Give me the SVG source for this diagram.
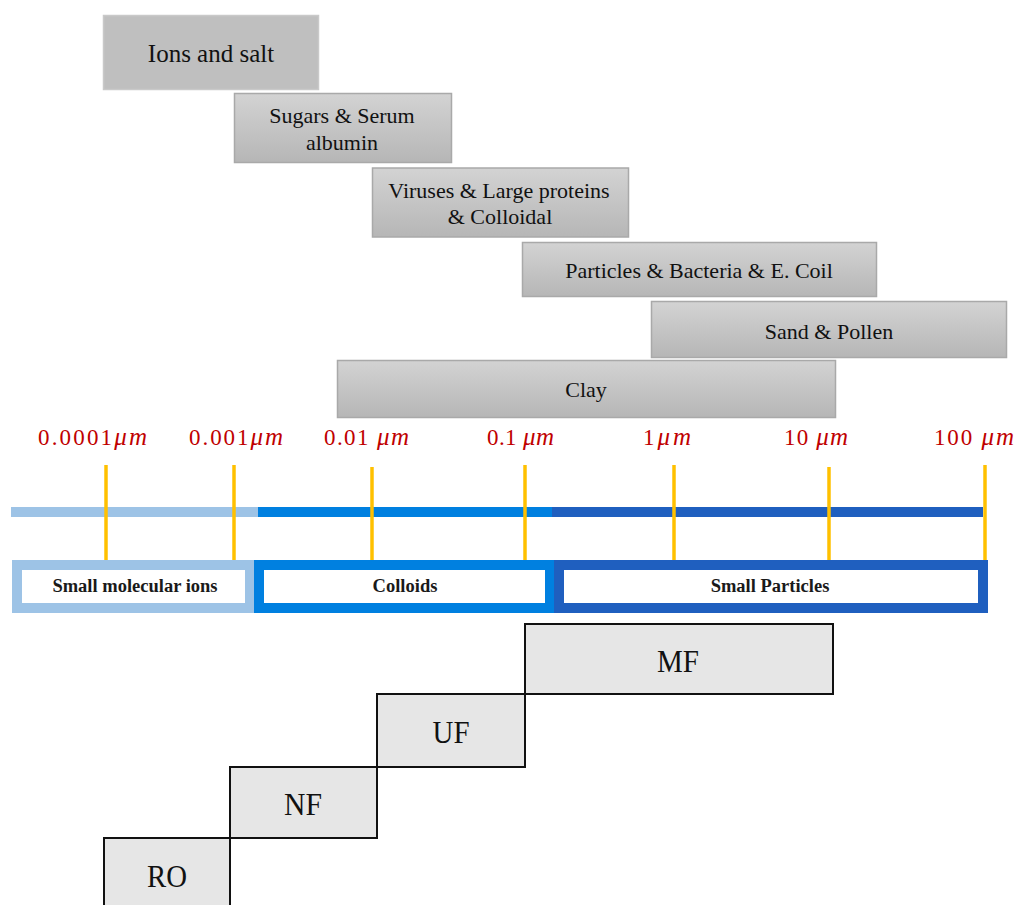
<svg xmlns="http://www.w3.org/2000/svg" width="1016" height="905" viewBox="0 0 1016 905">
<defs>
<linearGradient id="g" x1="0" y1="0" x2="0" y2="1">
<stop offset="0" stop-color="#d3d3d3"/>
<stop offset="1" stop-color="#b6b6b6"/>
</linearGradient>
<style>
.cat{fill:url(#g);stroke:#a9a9a9;stroke-width:1.5}
.t{font-family:"Liberation Serif","Times New Roman",serif;fill:#111;text-anchor:middle}
.top{font-size:22px}
.tick{stroke:#ffc000;stroke-width:3.5}
.lab{font-family:"Liberation Serif","Times New Roman",serif;font-size:23px;fill:#c00000}
.mu{font-style:italic;font-size:25px}
.band{font-size:18.5px;font-weight:bold;fill:#1a1a1a}
.step{fill:#e6e6e6;stroke:#111;stroke-width:2}
.st{font-size:32px}
</style>
</defs>
<rect width="1016" height="905" fill="#fff"/>

<g id="ions"><rect x="103.5" y="15.5" width="215" height="74" fill="#bfbfbf" stroke="#c9c9c9" stroke-width="1.5"/><text class="t" x="211" y="62" font-size="25">Ions and salt</text></g>
<g id="sugars"><rect class="cat" x="234.5" y="93.5" width="217" height="69"/><text class="t top" x="342" y="123">Sugars &amp; Serum</text><text class="t top" x="342" y="150">albumin</text></g>
<g id="viruses"><rect class="cat" x="372.5" y="168" width="256" height="69"/><text class="t top" x="499" y="198">Viruses &amp; Large proteins</text><text class="t top" x="500" y="224">&amp; Colloidal</text></g>
<g id="particles"><rect class="cat" x="522.5" y="242.5" width="354" height="54"/><text class="t top" x="699" y="278">Particles &amp; Bacteria &amp; E. Coil</text></g>
<g id="sand"><rect class="cat" x="651.5" y="301.5" width="355" height="56"/><text class="t top" x="829" y="339">Sand &amp; Pollen</text></g>
<g id="clay"><rect class="cat" x="337.5" y="360.5" width="498" height="57"/><text class="t top" x="586" y="397">Clay</text></g>

<g id="scale-labels">
<text class="lab" x="38" y="445" textLength="109" lengthAdjust="spacing">0.0001<tspan class="mu">μm</tspan></text>
<text class="lab" x="189" y="445" textLength="94" lengthAdjust="spacing">0.001<tspan class="mu">μm</tspan></text>
<text class="lab" x="324" y="445" textLength="85" lengthAdjust="spacing">0.01 <tspan class="mu">μm</tspan></text>
<text class="lab" x="487" y="445" textLength="67" lengthAdjust="spacing">0.1 <tspan class="mu">μm</tspan></text>
<text class="lab" x="643" y="445" textLength="48" lengthAdjust="spacing">1<tspan class="mu">μm</tspan></text>
<text class="lab" x="784" y="445" textLength="64" lengthAdjust="spacing">10 <tspan class="mu">μm</tspan></text>
<text class="lab" x="934" y="445" textLength="80" lengthAdjust="spacing">100 <tspan class="mu">μm</tspan></text>
</g>

<g id="axis">
<rect x="11" y="507" width="247" height="10" fill="#9dc3e6"/>
<rect x="258" y="507" width="294" height="10" fill="#0080e0"/>
<rect x="552" y="507" width="431" height="10" fill="#1f5fbf"/>
</g>

<g id="band-small-molecular-ions"><rect x="17" y="565" width="233" height="43" fill="#fff" stroke="#9dc3e6" stroke-width="10"/><text class="t band" x="135" y="592">Small molecular ions</text></g>
<g id="band-colloids"><rect x="259" y="565" width="291" height="43" fill="#fff" stroke="#0080e0" stroke-width="10"/><text class="t band" x="405" y="592">Colloids</text></g>
<g id="band-small-particles"><rect x="559" y="565" width="424" height="43" fill="#fff" stroke="#1f5fbf" stroke-width="10"/><text class="t band" x="770" y="592">Small Particles</text></g>

<g id="ticks">
<line class="tick" x1="106" y1="465" x2="106" y2="560"/>
<line class="tick" x1="234" y1="465" x2="234" y2="560"/>
<line class="tick" x1="372" y1="467" x2="372" y2="560"/>
<line class="tick" x1="525" y1="465" x2="525" y2="560"/>
<line class="tick" x1="674" y1="465" x2="674" y2="560"/>
<line class="tick" x1="829" y1="467" x2="829" y2="560"/>
<line class="tick" x1="985" y1="465" x2="985" y2="560"/>
</g>

<g id="RO"><rect class="step" x="104" y="838" width="126" height="75"/><text class="t st" x="167" y="887" textLength="40" lengthAdjust="spacingAndGlyphs">RO</text></g>
<g id="NF"><rect class="step" x="230" y="767" width="147" height="71"/><text class="t st" x="303" y="815" textLength="38" lengthAdjust="spacingAndGlyphs">NF</text></g>
<g id="UF"><rect class="step" x="377" y="694" width="148" height="73"/><text class="t st" x="451" y="743" textLength="37" lengthAdjust="spacingAndGlyphs">UF</text></g>
<g id="MF"><rect class="step" x="525" y="624" width="308" height="70"/><text class="t st" x="678" y="672" textLength="42" lengthAdjust="spacingAndGlyphs">MF</text></g>
</svg>
